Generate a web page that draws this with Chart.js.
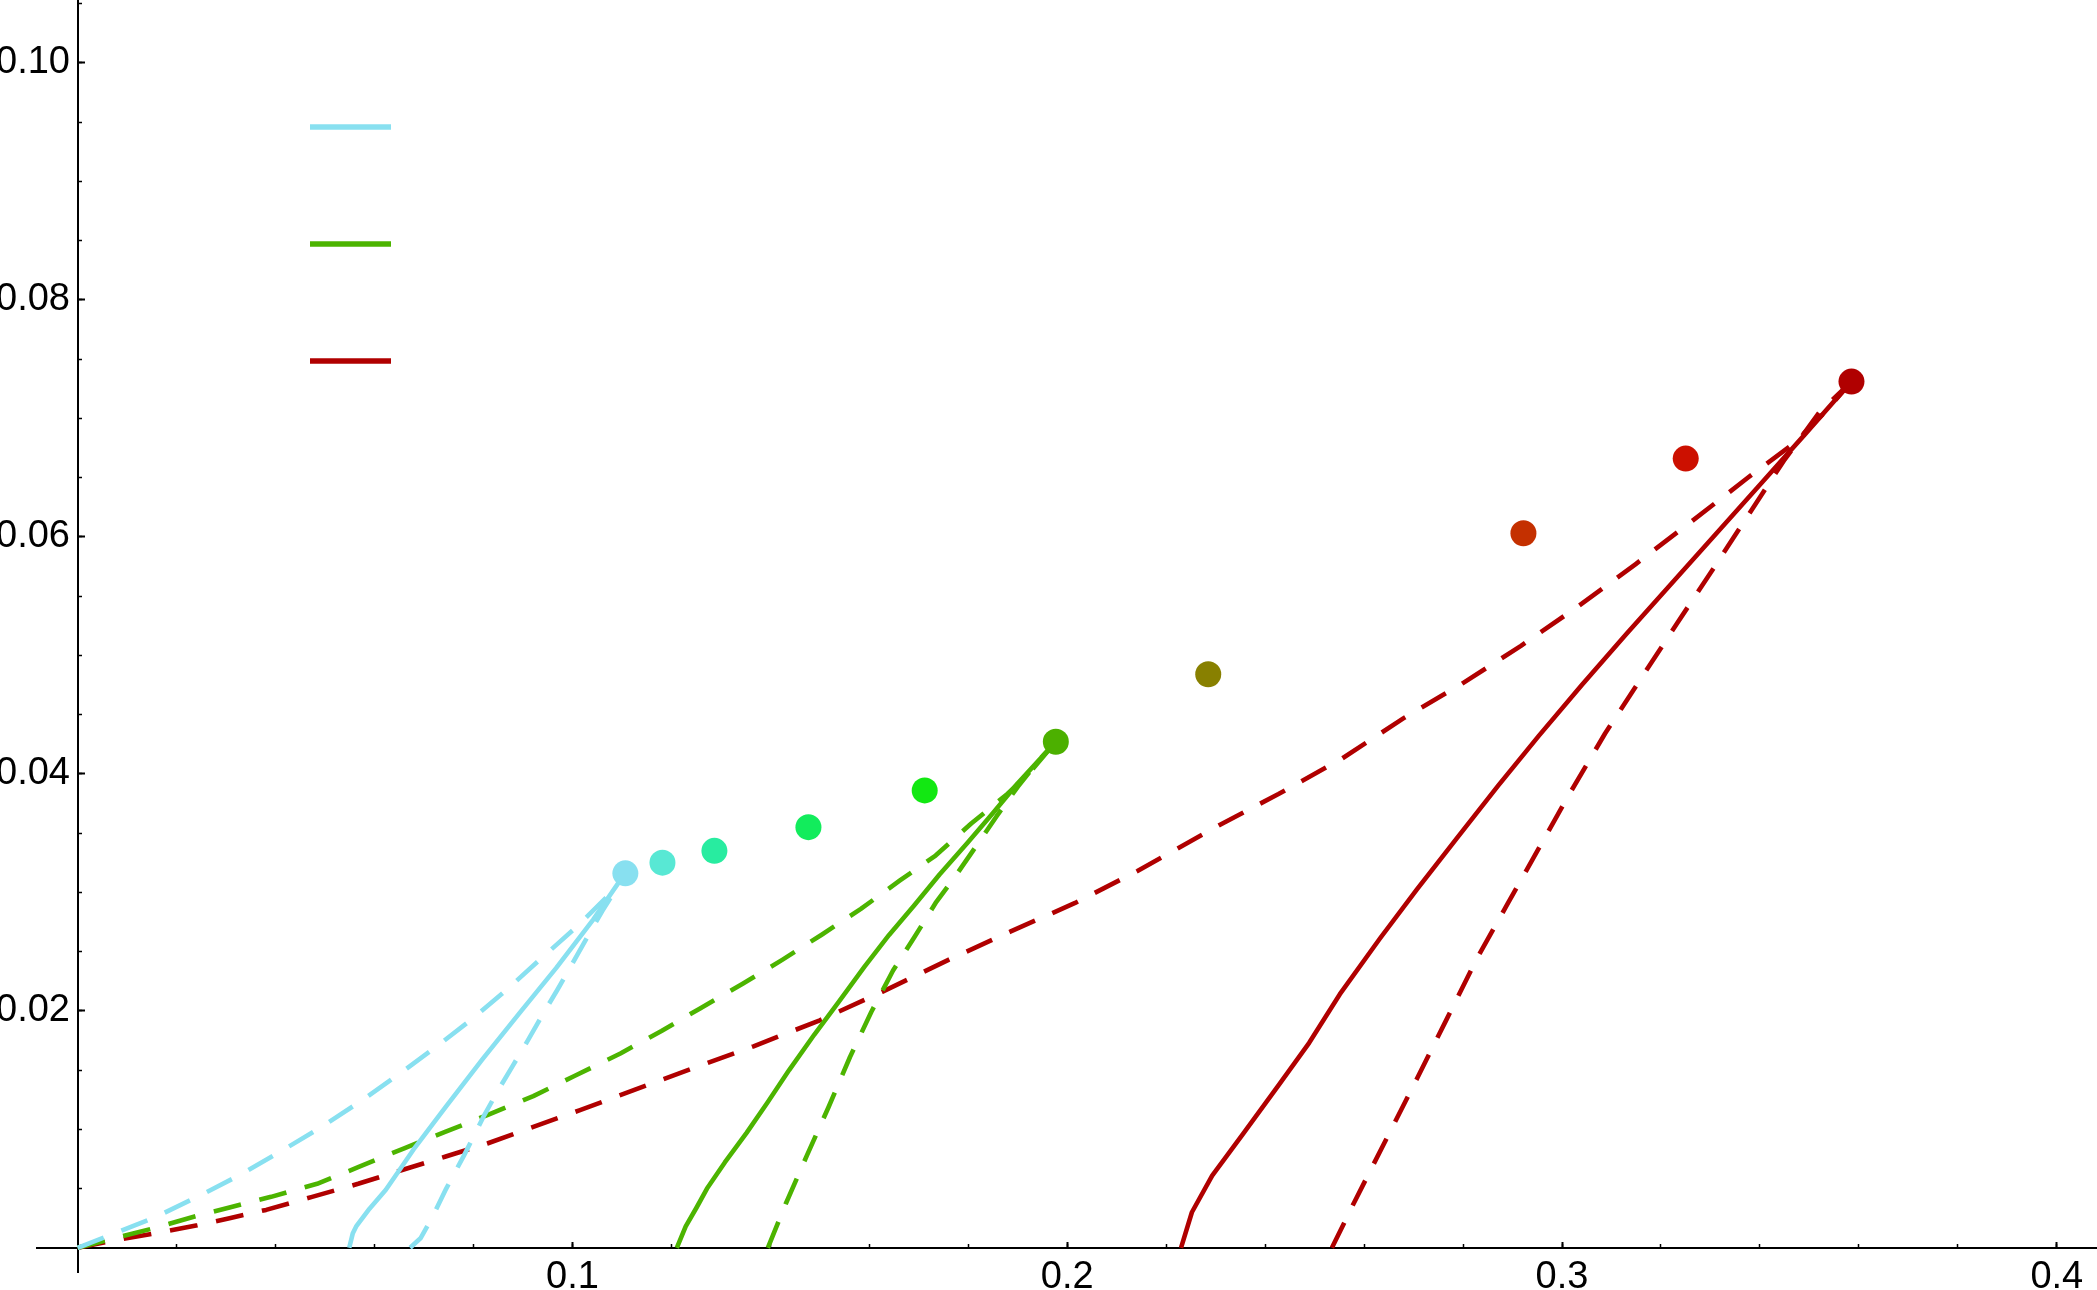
<!DOCTYPE html>
<html>
<head>
<meta charset="utf-8">
<script src="https://cdn.jsdelivr.net/npm/chart.js@4.4.0/dist/chart.umd.min.js"></script>
<style>
  html, body { margin: 0; padding: 0; background: #ffffff; }
  #wrap { width: 2097px; height: 1290px; position: relative; }
</style>
</head>
<body>
<div id="wrap"><canvas id="c" width="2097" height="1290"></canvas></div>
<script>
// ---------------- data (x, y) ----------------
const cyanSolid = [[0.0549,0],[0.0556,0.0012],[0.0563,0.0018],[0.0590,0.0033],[0.0623,0.0049],[0.0679,0.0083],[0.0744,0.0119],[0.0818,0.0159],[0.0893,0.0198],[0.0967,0.0236],[0.1042,0.0277],[0.1093,0.0308],[0.1107,0.0316]];
const cyanDashUpper = [[0,0],[0.0074,0.0012],[0.0158,0.0026],[0.0242,0.0043],[0.0326,0.0061],[0.0409,0.0081],[0.0493,0.0102],[0.0577,0.0125],[0.0651,0.0147],[0.0726,0.0170],[0.0800,0.0194],[0.0865,0.0217],[0.0939,0.0245],[0.1014,0.0273],[0.1079,0.0300],[0.1107,0.0316]];
const cyanDashLower = [[0.0672,0],[0.0693,0.0008],[0.0716,0.0025],[0.0745,0.0050],[0.0781,0.0078],[0.0822,0.0112],[0.0850,0.0133],[0.0880,0.0154],[0.0910,0.0175],[0.0940,0.0197],[0.0970,0.0218],[0.1000,0.0240],[0.1030,0.0262],[0.1060,0.0284],[0.1090,0.0304],[0.1107,0.0316]];

const greenSolid = [[0.1211,0],[0.1229,0.0018],[0.1251,0.0034],[0.1272,0.0050],[0.1308,0.0072],[0.1352,0.0097],[0.1395,0.0123],[0.1438,0.0150],[0.1489,0.0180],[0.1539,0.0208],[0.1590,0.0237],[0.1640,0.0264],[0.1691,0.0289],[0.1742,0.0315],[0.1799,0.0342],[0.1850,0.0367],[0.1900,0.0392],[0.1944,0.0412],[0.1977,0.0427]];
const greenDashUpper = [[0,0],[0.0074,0.0008],[0.0149,0.0016],[0.0233,0.0026],[0.0307,0.0034],[0.0391,0.0043],[0.0484,0.0054],[0.0567,0.0068],[0.0660,0.0084],[0.0744,0.0098],[0.0828,0.0112],[0.0921,0.0128],[0.1004,0.0145],[0.1097,0.0164],[0.1180,0.0183],[0.1258,0.0202],[0.1345,0.0223],[0.1424,0.0243],[0.1503,0.0264],[0.1583,0.0286],[0.1662,0.0310],[0.1734,0.0331],[0.1806,0.0358],[0.1879,0.0383],[0.1922,0.0400],[0.1977,0.0427]];
const greenDashLower = [[0.1395,0],[0.1431,0.0037],[0.1474,0.0078],[0.1518,0.0119],[0.1561,0.0161],[0.1604,0.0199],[0.1648,0.0234],[0.1691,0.0262],[0.1734,0.0291],[0.1778,0.0316],[0.1821,0.0342],[0.1857,0.0364],[0.1900,0.0389],[0.1944,0.0412],[0.1977,0.0427]];

const redSolid = [[0.2230,0],[0.2252,0.0030],[0.2293,0.0061],[0.2355,0.0096],[0.2427,0.0137],[0.2489,0.0173],[0.2551,0.0214],[0.2632,0.0261],[0.2706,0.0302],[0.2788,0.0346],[0.2871,0.0390],[0.2953,0.0432],[0.3040,0.0475],[0.3130,0.0518],[0.3220,0.0560],[0.3310,0.0602],[0.3400,0.0644],[0.3490,0.0686],[0.3585,0.0731]];
const redDashUpper = [[0,0],[0.0084,0.0007],[0.0167,0.0013],[0.0242,0.0019],[0.0307,0.0025],[0.0381,0.0032],[0.0474,0.0043],[0.0567,0.0054],[0.0651,0.0065],[0.0744,0.0077],[0.0828,0.0088],[0.0921,0.0102],[0.1014,0.0116],[0.1098,0.0129],[0.1240,0.0151],[0.1366,0.0170],[0.1500,0.0192],[0.1626,0.0216],[0.1760,0.0243],[0.1886,0.0267],[0.2016,0.0291],[0.2142,0.0318],[0.2309,0.0357],[0.2427,0.0383],[0.2556,0.0413],[0.2680,0.0447],[0.2798,0.0476],[0.2917,0.0508],[0.3035,0.0542],[0.3149,0.0577],[0.3262,0.0613],[0.3376,0.0650],[0.3469,0.0679],[0.3531,0.0705],[0.3585,0.0731]];
const redDashLower = [[0.2535,0],[0.2582,0.0040],[0.2644,0.0091],[0.2706,0.0142],[0.2767,0.0193],[0.2829,0.0245],[0.2891,0.0291],[0.2953,0.0337],[0.3015,0.0383],[0.3087,0.0434],[0.3159,0.0480],[0.3231,0.0526],[0.3304,0.0572],[0.3376,0.0618],[0.3448,0.0664],[0.3520,0.0705],[0.3585,0.0731]];

const dotPoints = [[0.1107,0.0316],[0.1182,0.0325],[0.1287,0.0335],[0.1477,0.0355],[0.1712,0.0386],[0.1977,0.0427],[0.2285,0.0484],[0.2922,0.0603],[0.3250,0.0666],[0.3585,0.0731]];

const xTickValues = [0.1, 0.2, 0.3, 0.4];
const xTickLabels = ['0.1', '0.2', '0.3', '0.4'];
const xMinorValues = [0.02,0.04,0.06,0.08,0.10,0.12,0.14,0.16,0.18,0.20,0.22,0.24,0.26,0.28,0.30,0.32,0.34,0.36,0.38,0.40];
const yTickValues = [0.02, 0.04, 0.06, 0.08, 0.10];
const yTickLabels = ['0.02', '0.04', '0.06', '0.08', '0.10'];
const yMinorValues = [0.005,0.01,0.015,0.02,0.025,0.03,0.035,0.04,0.045,0.05,0.055,0.06,0.065,0.07,0.075,0.08,0.085,0.09,0.095,0.10,0.105];

// ---------------- styles ----------------
const CYAN = '#88e0f0', GREEN = '#4cb400', RED = '#b00000';
const dotColors = ['#88e0f0','#58e8d4','#28eca0','#12ec5c','#12e812','#4cb000','#888000','#c43000','#cc1000','#b00000'];

const pts = arr => arr.map(p => ({x: p[0], y: p[1]}));
function lineDs(arr, color, dashed) {
  return { data: pts(arr), showLine: true, borderColor: color, borderWidth: 4.6,
           borderDash: dashed ? [28, 19] : [], borderCapStyle: 'butt', borderJoinStyle: 'round',
           pointRadius: 0, tension: 0, fill: false };
}

const X_MIN = -0.008205, X_MAX = 0.40812, Y_MIN = -0.002042, Y_MAX = 0.1053;
const zeroPad = s => { s.paddingTop = 0; s.paddingBottom = 0; s.paddingLeft = 0; s.paddingRight = 0; };
const FONT = { family: 'Liberation Sans', size: 38 };

const legendPlugin = {
  id: 'lineLegend',
  afterDraw(chart) {
    const ctx = chart.ctx;
    const items = [[CYAN, 127], [GREEN, 244], [RED, 361]];
    ctx.save();
    ctx.lineWidth = 5.5;
    ctx.lineCap = 'butt';
    items.forEach(([c, y]) => { ctx.strokeStyle = c; ctx.beginPath(); ctx.moveTo(310, y); ctx.lineTo(391, y); ctx.stroke(); });
    ctx.restore();
  }
};

new Chart(document.getElementById('c'), {
  type: 'scatter',
  data: {
    datasets: [
      { data: pts(dotPoints), showLine: false, pointRadius: 13, pointHoverRadius: 13,
        pointBackgroundColor: dotColors, pointBorderWidth: 0, pointBorderColor: dotColors },
      lineDs(cyanSolid, CYAN, false),
      lineDs(cyanDashUpper, CYAN, true),
      lineDs(cyanDashLower, CYAN, true),
      lineDs(greenSolid, GREEN, false),
      lineDs(greenDashUpper, GREEN, true),
      lineDs(greenDashLower, GREEN, true),
      lineDs(redSolid, RED, false),
      lineDs(redDashUpper, RED, true),
      lineDs(redDashLower, RED, true)
    ]
  },
  options: {
    responsive: false,
    animation: false,
    devicePixelRatio: 1,
    layout: { autoPadding: false, padding: { left: 37, right: 0, top: 0, bottom: 18 } },
    plugins: { legend: { display: false }, tooltip: { enabled: false } },
    scales: {
      x: {
        type: 'linear', min: X_MIN, max: X_MAX, position: { y: 0 },
        afterBuildTicks: s => { s.ticks = xTickValues.map(v => ({ value: v })); },
        afterFit: zeroPad,
        border: { display: true, color: '#000', width: 2 },
        grid: { drawOnChartArea: false, drawTicks: true, tickLength: -7, tickColor: '#000', tickWidth: 2 },
        ticks: { autoSkip: false, maxRotation: 0, padding: 14, color: '#000', font: FONT,
                 callback: (v, i) => xTickLabels[i] }
      },
      xMinor: {
        type: 'linear', axis: 'x', min: X_MIN, max: X_MAX, position: { y: 0 },
        afterBuildTicks: s => { s.ticks = xMinorValues.map(v => ({ value: v })); },
        afterFit: zeroPad,
        border: { display: false },
        grid: { drawOnChartArea: false, drawTicks: true, tickLength: -4, tickColor: '#000', tickWidth: 1.5 },
        ticks: { display: false }
      },
      y: {
        type: 'linear', min: Y_MIN, max: Y_MAX, position: { x: 0 },
        afterBuildTicks: s => { s.ticks = yTickValues.map(v => ({ value: v })); },
        afterFit: zeroPad,
        border: { display: true, color: '#000', width: 2 },
        grid: { drawOnChartArea: false, drawTicks: true, tickLength: -8, tickColor: '#000', tickWidth: 2 },
        ticks: { autoSkip: false, padding: 8, color: '#000', font: FONT,
                 callback: (v, i) => yTickLabels[i] + '\u2009' }
      },
      yMinor: {
        type: 'linear', axis: 'y', min: Y_MIN, max: Y_MAX, position: { x: 0 },
        afterBuildTicks: s => { s.ticks = yMinorValues.map(v => ({ value: v })); },
        afterFit: zeroPad,
        border: { display: false },
        grid: { drawOnChartArea: false, drawTicks: true, tickLength: -4, tickColor: '#000', tickWidth: 1.5 },
        ticks: { display: false }
      }
    }
  },
  plugins: [legendPlugin]
});
</script>
</body>
</html>
